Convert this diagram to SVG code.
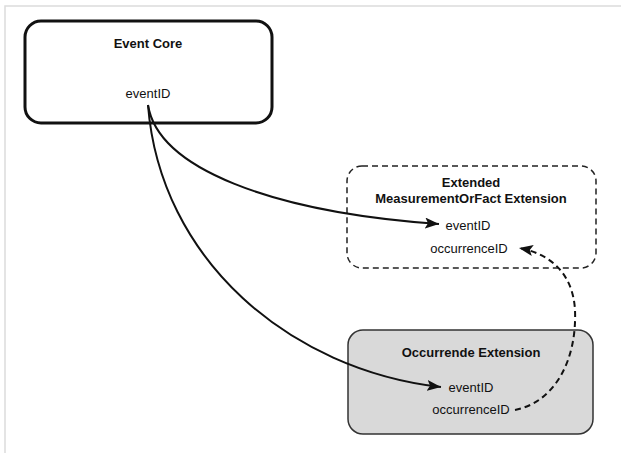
<svg xmlns="http://www.w3.org/2000/svg" width="621" height="453" viewBox="0 0 621 453">
<style>
  text { font-family: "Liberation Sans", Arial, sans-serif; font-size: 13px; fill: #111; text-anchor: middle; }
  .title { font-weight: bold; }
  .conn { fill: none; stroke: #111; stroke-width: 2; }
  .dash { stroke-dasharray: 6 4; }
</style>
<defs>
  <marker id="arrow" markerUnits="userSpaceOnUse" markerWidth="15" markerHeight="11" refX="14" refY="5.5" orient="auto">
    <path d="M0,0 L14,5.5 L0,11 L3,5.5 Z" fill="#111"/>
  </marker>
</defs>
<rect width="621" height="453" fill="#fff"/>
<path d="M5,453 V6 H621" fill="none" stroke="#dcdcdc" stroke-width="1.5"/>
<g id="event-core">
  <rect x="25" y="21" width="247" height="102" rx="16" fill="#fff" stroke="#111" stroke-width="3"/>
  <text class="title" x="148" y="48">Event Core</text>
  <text x="148" y="98">eventID</text>
</g>
<g id="mof-extension">
  <rect x="347" y="166" width="249" height="102" rx="15" fill="#fff" stroke="#222" stroke-width="1.5" stroke-dasharray="6 4"/>
  <text class="title" x="471" y="187">Extended</text>
  <text class="title" x="471" y="203">MeasurementOrFact Extension</text>
  <text x="468" y="230">eventID</text>
  <text x="469" y="253">occurrenceID</text>
</g>
<g id="occurrence-extension">
  <rect x="348" y="330" width="245" height="104" rx="15" fill="#d9d9d9" stroke="#333" stroke-width="1.5"/>
  <text class="title" x="471" y="357">Occurrende Extension</text>
  <text x="471" y="392">eventID</text>
  <text x="471" y="414">occurrenceID</text>
</g>
<g id="connectors">
  <path class="conn" d="M148,105 C158,168 270,212 439,224" marker-end="url(#arrow)"/>
  <path class="conn" d="M148,105 C160,260 290,370 441,387" marker-end="url(#arrow)"/>
  <path class="conn dash" d="M515,410 C555,402 577,360 575,310 C573,275 552,254 519,248" marker-end="url(#arrow)"/>
</g>
</svg>
